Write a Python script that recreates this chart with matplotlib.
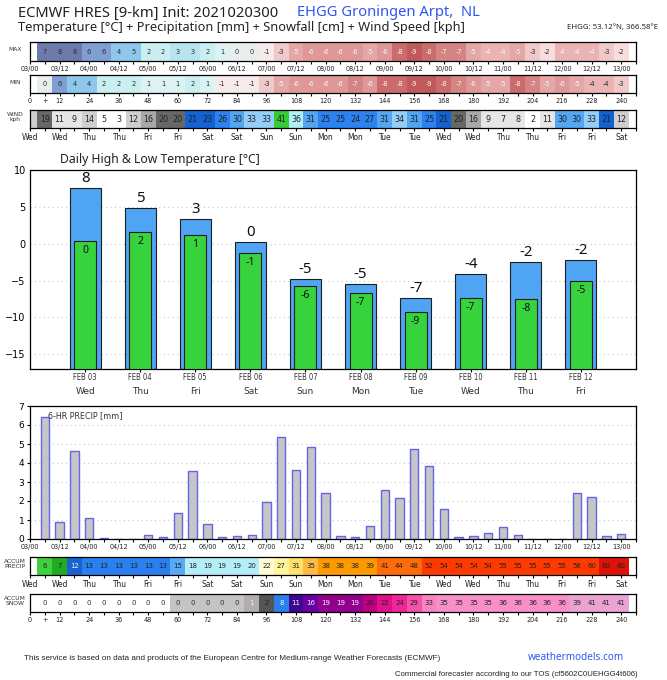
import matplotlib

matplotlib.use("Agg")
import matplotlib.pyplot as plt
import numpy as np
import pandas as pd

W, H = 667, 680
X0, X1 = 30, 636  # left / right edge of every panel in px

init_time = pd.Timestamp("2021-02-03 00:00")
step_hours = np.arange(6, 241, 6)

max_temp = [7, 8, 8, 6, 6, 4, 5, 2, 2, 3, 3, 2, 1, 0, 0, -1, -3, -5, -6, -6,
            -6, -6, -5, -6, -8, -9, -8, -7, -7, -5, -4, -4, -5, -3, -2, -4, -4, -4, -3, -2]
min_temp = [0, 6, 4, 4, 2, 2, 2, 1, 1, 1, 2, 1, -1, -1, -1, -3, -5, -6, -6, -6,
            -6, -7, -6, -8, -8, -9, -9, -8, -7, -6, -5, -5, -8, -7, -5, -6, -5, -4, -4, -3]

wind_hours = np.arange(0, 241, 6)
wind_kph = [14,
            19, 11, 9, 14, 5, 3, 12, 16, 20, 20, 21, 23, 26, 30, 33, 33, 41, 36, 31, 25,
            25, 24, 27, 31, 34, 31, 25, 21, 20, 16, 9, 7, 8, 2, 11, 30, 30, 33, 21, 12]

precip_6h = [6.44, 0.89, 4.64, 1.10, 0.03, 0.01, 0.0, 0.22, 0.10, 1.37,
             3.60, 0.79, 0.08, 0.14, 0.19, 1.94, 5.37, 3.64, 4.85, 2.42,
             0.17, 0.09, 0.70, 2.59, 2.15, 4.74, 3.85, 1.58, 0.10, 0.17,
             0.31, 0.63, 0.23, 0.01, 0.0, 0.02, 2.42, 2.22, 0.17, 0.26]
accum_precip = [6.4, 7.3, 12.0, 13.1, 13.1, 13.1, 13.1, 13.3, 13.4, 14.8,
                18.4, 19.2, 19.3, 19.4, 19.6, 21.5, 26.9, 30.6, 35.4, 37.8,
                38.0, 38.1, 38.8, 41.4, 43.6, 48.3, 52.2, 53.7, 53.8, 54.0,
                54.3, 54.9, 55.1, 55.1, 55.1, 55.2, 57.6, 59.8, 60.0, 60.2]
accum_snow = [0, 0, 0, 0, 0, 0, 0, 0, 0, 0.1,
              0.1, 0.2, 0.3, 0.4, 1.0, 2.1, 7.9, 11.2, 15.8, 18.9,
              19.2, 19.4, 19.9, 22.1, 24.0, 28.9, 33.1, 34.8, 35.1, 35.2,
              35.3, 35.6, 35.8, 36.0, 36.1, 36.2, 39.0, 40.8, 41.0, 41.2]

high_temp = [7.6, 4.9, 3.4, 0.2, -4.8, -5.4, -7.3, -4.1, -2.45, -2.2]
low_temp = [0.4, 1.6, 1.2, -1.3, -5.7, -6.7, -9.2, -7.3, -7.55, -5.0]

temp_palette = {-9: "#c05a5a", -8: "#cb6c6c", -7: "#d58484", -6: "#de9898", -5: "#e4a6a6",
                -4: "#eab4b4", -3: "#f0caca", -2: "#f7dddd", -1: "#f6eaea", 0: "#e8eeee",
                1: "#ddf2f2", 2: "#c9eff0", 3: "#b7e4ee", 4: "#8ec7ec", 5: "#8ec7ec",
                6: "#7f9fd4", 7: "#6d7aab", 8: "#6d7aab"}
wind_bins = [(6.5, "#ffffff"), (11.5, "#e6e6e6"), (15, "#cfcfcf"), (17.5, "#a8a8a8"),
             (20.5, "#676767"), (23.5, "#1262d2"), (28, "#2b82f0"), (32, "#52a6f2"),
             (35, "#93cdf8"), (38, "#b2f0f8"), (99, "#33cc33")]
precip_bins = [(0.5, "#ffffff", "#222222"), (7.0, "#3dd13d", "#222222"), (10, "#22aa22", "#222222"),
               (12.5, "#1a62cf", "#f2f2f2"), (14, "#2b80ef", "#222222"), (17.5, "#57aaf4", "#222222"),
               (21, "#b4eef8", "#222222"), (25, "#fffbd2", "#222222"), (28, "#fff59a", "#222222"),
               (33, "#ffe16a", "#222222"), (36, "#ffba45", "#222222"), (40, "#ff9900", "#222222"),
               (50, "#ff6a0a", "#222222"), (59.9, "#ff3a00", "#222222"), (99, "#dd1208", "#222222")]
snow_bins = [(0.05, "#ffffff", "#333333"), (0.95, "#c4c4c4", "#333333"), (1.5, "#b3adad", "#f4f4f4"),
             (5, "#555555", "#222222"), (10, "#2b7fef", "#f4f4f4"), (14, "#3f078f", "#f4f4f4"),
             (17, "#6a00a0", "#f4f4f4"), (19.5, "#94008e", "#f4f4f4"), (21, "#bd0082", "#222222"),
             (23, "#e0108a", "#222222"), (26, "#f0259a", "#222222"), (31, "#f353a7", "#222222"),
             (34, "#f983c0", "#222222"), (37, "#f78fc8", "#222222"), (99, "#eaa3d3", "#222222")]

plt.rcParams["font.family"] = ["DejaVu Sans"]
plt.rcParams["axes.linewidth"] = 0.9

fig = plt.figure(figsize=(W / 100, H / 100), dpi=100)


def px_axes(x0, y0, x1, y1):
    return fig.add_axes([x0 / W, 1 - y1 / H, (x1 - x0) / W, (y1 - y0) / H])


def fig_text(x, y, s, **kw):
    fig.text(x / W, 1 - y / H, s, **kw)


def pick(bins, v):
    for entry in bins:
        if v <= entry[0]:
            return entry[1:]
    return bins[-1][1:]


def stamp(h, fmt):
    return (init_time + pd.Timedelta(hours=int(h))).strftime(fmt)


def time_ticks(ax, kind):
    major = np.arange(0, 241, 12)
    if kind == "stamp":
        ticks, labels = major, [stamp(h, "%d/%H") for h in major]
    elif kind == "day":
        ticks, labels = major, [stamp(h, "%a") for h in major]
    else:
        ticks = np.concatenate([[0, 6], major[1:]])
        labels = ["0", "+"] + [str(h) for h in major[1:]]
    ax.set_xticks(ticks)
    ax.set_xticklabels(labels, fontsize=5.2 if kind != "day" else 6, color="#222222",
                       fontstretch="condensed")
    ax.set_xticks(np.arange(0, 247, 6), minor=True)
    ax.tick_params(axis="x", which="both", direction="out", length=2.5, width=0.8, pad=1.2)
    ax.set_xlim(0, 246)


def strip(y0, y1, xs, values, faces, texts, labels, fontsize, kind, name):
    ax = px_axes(X0, y0, X1, y1)
    ax.bar(xs, 1, width=6, bottom=0, color=faces, linewidth=0)
    for xv, lab, tc in zip(xs, labels, texts):
        if lab:
            ax.text(xv, 0.5, lab, ha="center", va="center", fontsize=fontsize, color=tc)
    ax.set_ylim(0, 1)
    ax.set_yticks([])
    time_ticks(ax, kind)
    fig_text(15, (y0 + y1) / 2 - 2, name, ha="center", va="center", fontsize=4.3,
             color="#333333", linespacing=0.95)
    return ax


# header
fig_text(18, 13, "ECMWF HRES [9-km] Init: 2021020300", family="Noto Sans", fontsize=10.6,
         va="center", color="#222222")
fig_text(297, 13, "EHGG Groningen Arpt,  NL", family="Noto Sans", fontsize=10.6,
         va="center", color="#2f55f5")
fig_text(18, 27, "Temperature [°C] + Precipitation [mm] + Snowfall [cm] + Wind Speed [kph]",
         family="Noto Sans", fontsize=9.2, va="center", color="#222222")
fig_text(658, 28, "EHGG: 53.12°N, 366.58°E", family="Noto Sans", fontsize=5.6,
         ha="right", va="center", color="#222222")

# MAX / MIN / WIND strips
strip(42, 61, step_hours, max_temp, [temp_palette[v] for v in max_temp],
      ["#f6f6f6" if v <= -4 else "#2a2a2a" for v in max_temp], [str(v) for v in max_temp],
      4.8, "stamp", "MAX")
strip(75, 93, step_hours, min_temp, [temp_palette[v] for v in min_temp],
      ["#f6f6f6" if v <= -5 else "#2a2a2a" for v in min_temp], [str(v) for v in min_temp],
      4.8, "lead", "MIN")
strip(110, 128, wind_hours, wind_kph, [pick(wind_bins, v)[0] for v in wind_kph],
      ["#222222"] * len(wind_kph), [str(v) if h > 0 else "" for h, v in zip(wind_hours, wind_kph)],
      5.8, "day", "WIND\nkph")

# daily high / low
ax_t = px_axes(X0, 170, X1, 369)
floor = -17
days = np.arange(len(high_temp))
ax_t.bar(days, np.array(high_temp) - floor, bottom=floor, width=0.56, color="#4fa5f3",
         edgecolor="#1e1e1e", linewidth=0.8, zorder=2)
ax_t.bar(days, np.array(low_temp) - floor, bottom=floor, width=0.40, color="#36d33c",
         edgecolor="#1e1e1e", linewidth=0.8, zorder=3)
for d, hv, lv in zip(days, high_temp, low_temp):
    ax_t.text(d, hv + 0.25, f"{int(round(hv))}", ha="center", va="bottom", fontsize=10.8,
              family="Noto Sans", color="#111111", zorder=4)
    ax_t.text(d, lv - 1.3, f"{int(round(lv))}", ha="center", va="center", fontsize=7.5,
              family="Noto Sans", color="#111111", zorder=4)
    date = init_time + pd.Timedelta(days=int(d))
    ax_t.text(d, -0.045, date.strftime("%b %d").upper(), transform=ax_t.get_xaxis_transform(),
              ha="center", va="center", fontsize=5.5, fontstretch="condensed", color="#333333")
    ax_t.text(d, -0.115, date.strftime("%a"), transform=ax_t.get_xaxis_transform(),
              ha="center", va="center", fontsize=6.5, color="#333333")
ax_t.set_xlim(-1, 10)
ax_t.set_ylim(floor, 10)
ax_t.set_yticks([-15, -10, -5, 0, 5, 10])
ax_t.set_xticks(days)
ax_t.set_xticklabels([])
ax_t.tick_params(axis="y", labelsize=7, length=0, pad=3)
ax_t.tick_params(axis="x", length=2.5, direction="out")
ax_t.grid(axis="y", color="#c8c8c8", linestyle=(0, (1, 3)), linewidth=0.8)
ax_t.set_axisbelow(True)
fig_text(60, 160, "Daily High & Low Temperature [°C]", family="Noto Sans", fontsize=8.8,
         va="center", color="#222222")

# 6-hr precipitation
ax_p = px_axes(X0, 406, X1, 539)
ax_p.bar(step_hours, precip_6h, width=3.4, color="#c6c6c6", edgecolor="#6464ec",
         linewidth=1.0, zorder=2)
ax_p.set_ylim(0, 7)
ax_p.set_yticks(range(0, 8))
ax_p.tick_params(axis="y", labelsize=6.5, length=2, pad=2)
ax_p.grid(axis="y", color="#c8c8c8", linestyle=(0, (1, 3)), linewidth=0.8)
ax_p.set_axisbelow(True)
time_ticks(ax_p, "stamp")
ax_p.text(0.03, 0.965, "6-HR PRECIP [mm]", transform=ax_p.transAxes, fontsize=5.8,
          va="top", color="#333333")

# accumulations
strip(557, 575, step_hours, accum_precip, [pick(precip_bins, v)[0] for v in accum_precip],
      [pick(precip_bins, v)[1] for v in accum_precip], [f"{v:.0f}" for v in accum_precip],
      5.0, "day", "ACCUM\nPRECIP")
strip(594, 612, step_hours, accum_snow, [pick(snow_bins, v)[0] for v in accum_snow],
      [pick(snow_bins, v)[1] for v in accum_snow], [f"{v:.0f}" for v in accum_snow],
      5.0, "lead", "ACCUM\nSNOW")

# footer
fig_text(24, 658, "This service is based on data and products of the European Centre for "
         "Medium-range Weather Forecasts (ECMWF)", family=["Liberation Sans Narrow", "Liberation Sans"],
         fontsize=5.9, va="center", color="#222222")
fig_text(528, 658, "weathermodels.com", family="Noto Sans", fontsize=7.2, va="center",
         color="#2f55f5")
fig_text(638, 675, "Commercial forecaster according to our TOS (cf5602C0UEHGG4t606)",
         family=["Liberation Sans Narrow", "Liberation Sans"], fontsize=5.6, ha="right",
         va="center", color="#222222")

fig.savefig("out.png", dpi=100)
plt.close(fig)
